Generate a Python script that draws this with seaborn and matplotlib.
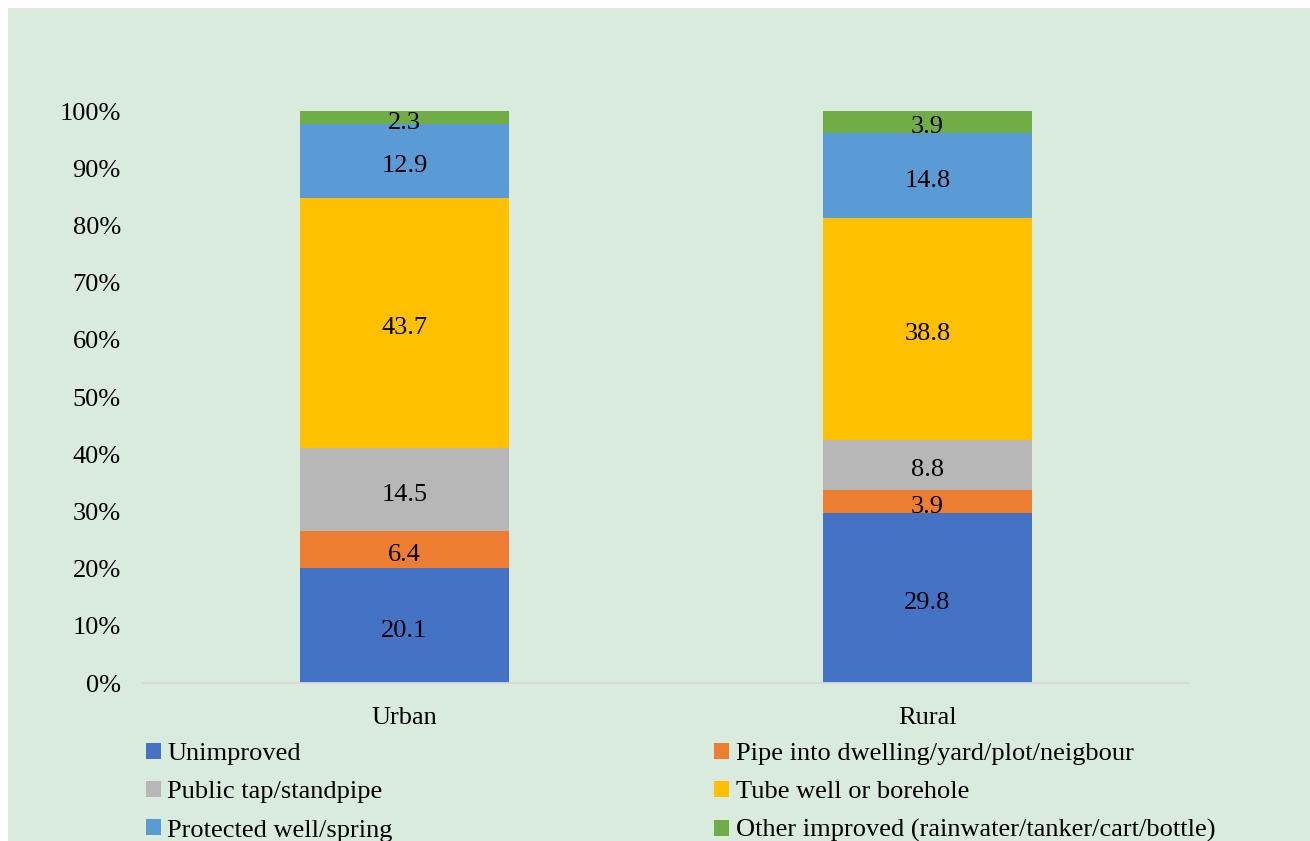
import matplotlib
matplotlib.use("Agg")
import matplotlib.pyplot as plt
from matplotlib.patches import Patch, Rectangle
import pandas as pd
import seaborn as sns

# Data
areas = ["Urban", "Rural"]
sources = ["Unimproved",
           "Pipe into dwelling/yard/plot/neigbour",
           "Public tap/standpipe",
           "Tube well or borehole",
           "Protected well/spring",
           "Other improved (rainwater/tanker/cart/bottle)"]
urban = [20.1, 6.4, 14.5, 43.7, 12.9, 2.3]
rural = [29.8, 3.9, 8.8, 38.8, 14.8, 3.9]
colors = ["#4472C4", "#ED7D31", "#B7B7B7", "#FFC000", "#5B9BD5", "#70AD47"]
bg = "#D8EBDD"

sns.set_theme(style="white")
plt.rcParams['font.family'] = ['Liberation Serif', 'DejaVu Serif']
plt.rcParams['text.color'] = 'black'
FS = 19

df = pd.DataFrame({"Urban": urban, "Rural": rural}, index=sources)
share = df / df.sum() * 100          # 100% stacked
cum = share.cumsum()

W, H = 1310, 841
fig = plt.figure(figsize=(W / 100, H / 100), dpi=100)
fig.patch.set_facecolor('white')
fig.patches.append(Rectangle((8 / W, 0), 1, 1 - 8 / H, transform=fig.transFigure,
                             facecolor=bg, edgecolor='none', zorder=-1))
ax = fig.add_axes([143 / W, 1 - 683 / H, (1189 - 143) / W, (683 - 111) / H])
ax.set_facecolor('none')

# stacked bars: draw cumulative tops from the top layer down
for i in reversed(range(len(sources))):
    top = cum.iloc[i].reset_index()
    top.columns = ['area', 'value']
    sns.barplot(data=top, x='area', y='value', order=areas, color=colors[i],
                saturation=1, width=0.4, errorbar=None, linewidth=0, ax=ax)

# segment labels
for j, a in enumerate(areas):
    for i, s in enumerate(sources):
        ax.annotate(f"{df.loc[s, a]:.1f}", (j, cum.loc[s, a] - share.loc[s, a] / 2),
                    xytext=(0, -2), textcoords='offset points',
                    ha='center', va='center_baseline', fontsize=FS, color='black')

ax.set_xlim(-0.5, 1.5)
ax.set_ylim(0, 100)
ax.set_yticks(range(0, 101, 10))
ax.set_yticklabels([f"{v}%" for v in range(0, 101, 10)])
ax.set_xlabel('')
ax.set_ylabel('')
ax.tick_params(axis='both', length=0, labelsize=FS, colors='black')
ax.tick_params(axis='y', pad=16)
ax.tick_params(axis='x', pad=17)
for side in ['top', 'right', 'left']:
    ax.spines[side].set_visible(False)
ax.spines['bottom'].set_color('#D9D9D9')
ax.spines['bottom'].set_linewidth(1.3)

# legend, row-major order like the original
handles = [Patch(facecolor=c, edgecolor='none', label=s) for s, c in zip(sources, colors)]
order = [0, 2, 4, 1, 3, 5]
fig.legend([handles[k] for k in order], [sources[k] for k in order],
           loc='upper left', bbox_to_anchor=(146 / W, 1 - 743 / H), ncol=2,
           frameon=False, fontsize=FS, handlelength=0.55, handleheight=0.55,
           handletextpad=0.25, columnspacing=12.2, labelspacing=0.6,
           borderaxespad=0, borderpad=0, labelcolor='black')

fig.savefig('out.png', dpi=100, facecolor='white')
